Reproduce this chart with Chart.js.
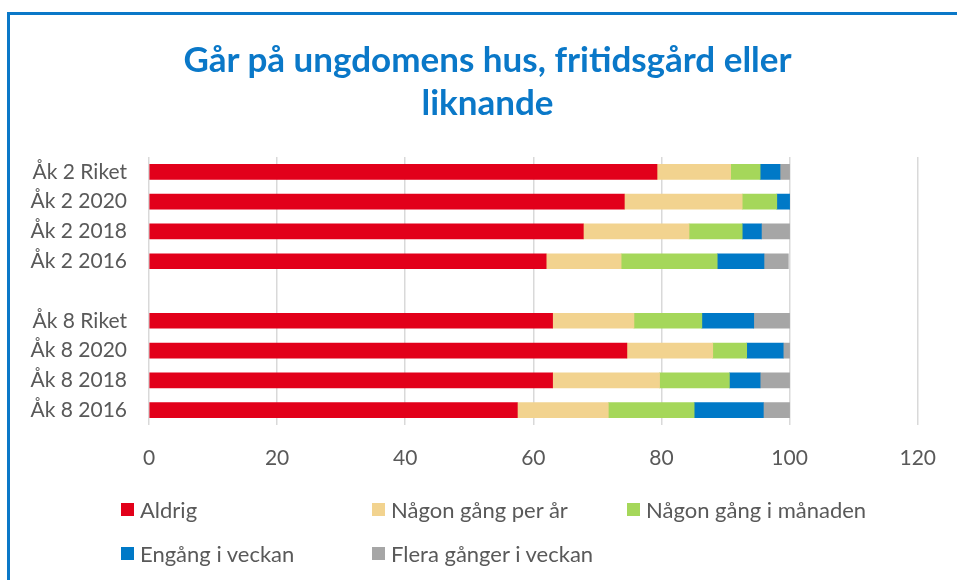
<!DOCTYPE html>
<html>
<head>
<meta charset="utf-8">
<script src="https://cdn.jsdelivr.net/npm/chart.js@4/dist/chart.umd.min.js"></script>
<style>
  html, body { margin: 0; padding: 0; background: #fff; }
  #wrap { position: relative; width: 957px; height: 580px; overflow: hidden; }
  #frame {
    position: absolute; left: 7px; top: 12px; width: 970px; height: 600px;
    border-left: 3px solid #0a78c8; border-top: 3px solid #0a78c8;
    pointer-events: none;
  }
  #chart { position: absolute; left: 0; top: 0; }
  #title {
    position: absolute; left: 100px; top: 37px; width: 775px;
    text-align: center; font-family: Lato, sans-serif; font-weight: bold;
    font-size: 35px; line-height: 43px; color: #0a78c8;
  }
  #legend {
    position: absolute; left: 121px; top: 498px;
    display: grid; grid-template-columns: 251px 255px 250px;
    grid-auto-rows: 44px;
    font-family: Lato, sans-serif; font-size: 22px; color: #595959;
  }
  .item { display: flex; align-items: center; height: 22px; white-space: nowrap; }
  .box { width: 13px; height: 13px; margin-right: 6px; flex: none; }
</style>
</head>
<body>
<div id="wrap">
  <canvas id="chart" width="957" height="580"></canvas>
  <div id="frame"></div>
  <div id="title"></div>
  <div id="legend"></div>
</div>
<script>
// categories (blank one is the gap between the two groups)
const categories = ["Åk 2 Riket", "Åk 2 2020", "Åk 2 2018", "Åk 2 2016", "",
  "Åk 8 Riket", "Åk 8 2020", "Åk 8 2018", "Åk 8 2016"];

const seriesNames = ["Aldrig", "Någon gång per år", "Någon gång i månaden",
  "Engång i veckan", "Flera gånger i veckan"];

const titleLines = ["Går på ungdomens hus, fritidsgård eller", "liknande"];

const aldrig      = [79.3, 74.2, 67.8, 62.0, null, 63.0, 74.6, 63.0, 57.5];
const perAr       = [11.5, 18.4, 16.5, 11.7, null, 12.7, 13.4, 16.7, 14.2];
const iManaden    = [4.6, 5.4, 8.3, 15.0, null, 10.6, 5.3, 10.9, 13.4];
const engangVecka = [3.1, 2.0, 3.0, 7.3, null, 8.1, 5.7, 4.8, 10.8];
const fleraVecka  = [1.5, 0.0, 4.4, 3.8, null, 5.6, 1.0, 4.6, 4.1];

const xTicks = [0, 20, 40, 60, 80, 100, 120];

const colors = ["#e2001a", "#f2d38f", "#a5d75a", "#0079c7", "#a6a6a6"];
const allSeries = [aldrig, perAr, iManaden, engangVecka, fleraVecka];

const datasets = allSeries.map((vals, i) => ({
  label: seriesNames[i],
  data: vals,
  backgroundColor: colors[i],
  borderWidth: 0,
  barThickness: 15
}));

document.getElementById("title").innerHTML = titleLines.join("<br>");

const ctx = document.getElementById("chart");
const chart = new Chart(ctx, {
  type: "bar",
  data: { labels: categories, datasets: datasets },
  options: {
    responsive: false,
    animation: false,
    indexAxis: "y",
    layout: { padding: { left: 11, right: 35, top: 157, bottom: 100 } },
    plugins: {
      legend: { display: false },
      tooltip: { enabled: false }
    },
    scales: {
      x: {
        stacked: true,
        min: 0,
        max: 120,
        afterBuildTicks: s => { s.ticks = xTicks.map(v => ({ value: v })); },
        afterFit: s => { s.height = 55; },
        grid: { color: "#d9d9d9", lineWidth: 1.5, drawTicks: false },
        border: { display: false },
        ticks: { color: "#595959", padding: 21, font: { family: "Lato", size: 21 } }
      },
      y: {
        stacked: true,
        afterFit: s => { s.width = 138; },
        grid: { display: false, drawTicks: false },
        border: { display: false },
        ticks: { color: "#595959", padding: 22, font: { family: "Lato", size: 21 } }
      }
    }
  }
});

// legend laid out as a grid, like the original
const legendEl = document.getElementById("legend");
chart.data.datasets.forEach(ds => {
  const item = document.createElement("div");
  item.className = "item";
  const box = document.createElement("span");
  box.className = "box";
  box.style.background = ds.backgroundColor;
  const txt = document.createElement("span");
  txt.textContent = ds.label;
  item.appendChild(box);
  item.appendChild(txt);
  legendEl.appendChild(item);
});
</script>
</body>
</html>
